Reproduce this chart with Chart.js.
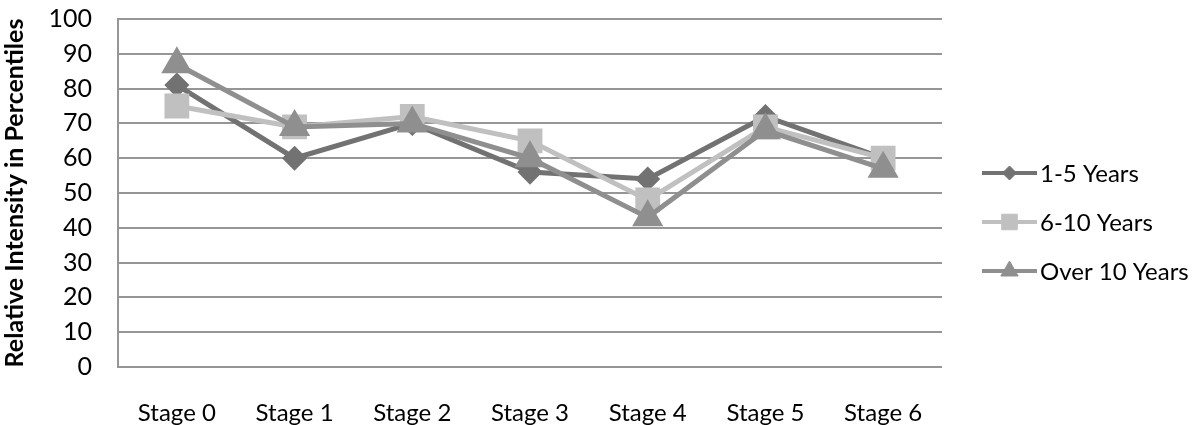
<!DOCTYPE html>
<html>
<head>
<meta charset="utf-8">
<script src="https://cdn.jsdelivr.net/npm/chart.js@4/dist/chart.umd.min.js"></script>
<style>
  html, body { margin: 0; padding: 0; background: #fff; }
  #wrap { width: 1194px; height: 425px; position: relative; }
</style>
</head>
<body>
<div id="wrap"><canvas id="c" width="1194" height="425"></canvas></div>
<script>
const stages = ['Stage 0', 'Stage 1', 'Stage 2', 'Stage 3', 'Stage 4', 'Stage 5', 'Stage 6'];
const years1to5 = [81, 60, 70, 56, 54, 72, 60];
const years6to10 = [75, 69, 72, 65, 48, 69, 60];
const over10 = [87, 69, 70, 60, 43, 68, 57];
const yTicks = [0, 10, 20, 30, 40, 50, 60, 70, 80, 90, 100];

const FONT = 'Lato, "Open Sans", sans-serif';

// Later series are painted over earlier ones (lower order = on top)
function series(label, data, color, style, radius, legendRadius, order) {
  return {
    label, data, legendRadius, order,
    borderColor: color, backgroundColor: color,
    pointBackgroundColor: color, pointBorderColor: color,
    borderWidth: 5, pointStyle: style, pointRadius: radius, pointHoverRadius: radius,
    tension: 0
  };
}

// Legend drawn as line + marker swatches to the right of the plot
const sideLegend = {
  id: 'sideLegend',
  afterDraw(chart) {
    const ctx = chart.ctx;
    const x0 = 982, x1 = 1037, rowY = [173, 222, 271];
    chart.data.datasets.forEach((ds, i) => {
      const y = rowY[i];
      ctx.save();
      ctx.strokeStyle = ds.borderColor;
      ctx.fillStyle = ds.borderColor;
      ctx.lineWidth = 4;
      ctx.beginPath(); ctx.moveTo(x0, y); ctx.lineTo(x1, y); ctx.stroke();
      ctx.lineWidth = 1;
      Chart.helpers.drawPoint(ctx, {
        pointStyle: ds.pointStyle, radius: ds.legendRadius, borderWidth: 1
      }, (x0 + x1) / 2, y);
      ctx.fillStyle = '#000';
      ctx.font = '24px ' + FONT;
      ctx.textBaseline = 'middle';
      ctx.fillText(ds.label, x1 + 3, y + 1);
      ctx.restore();
    });
  }
};

new Chart(document.getElementById('c'), {
  type: 'line',
  data: {
    labels: stages,
    datasets: [
      series('1-5 Years', years1to5, '#727272', 'rectRot', 9, 7, 3),
      series('6-10 Years', years6to10, '#c0c0c0', 'rect', 14, 11, 2),
      series('Over 10 Years', over10, '#8f8f8f', 'triangle', 13, 10, 1)
    ]
  },
  options: {
    responsive: false,
    animation: false,
    devicePixelRatio: 1,
    layout: { padding: { top: 15, right: 252, left: 0, bottom: 0 } },
    plugins: { legend: { display: false }, tooltip: { enabled: false } },
    scales: {
      x: {
        offset: true,
        grid: { display: false, drawTicks: false },
        border: { display: false },
        ticks: { color: '#000', font: { family: FONT, size: 24 }, padding: 32, maxRotation: 0, autoSkip: false },
        afterFit(s) { s.height = 58; s.paddingLeft = 0; s.paddingRight = 0; }
      },
      y: {
        min: 0, max: 100,
        afterBuildTicks(s) { s.ticks = yTicks.map(v => ({ value: v })); },
        grid: { color: '#969696', lineWidth: 2, drawTicks: false },
        border: { display: true, color: '#969696', width: 2 },
        ticks: { color: '#000', font: { family: FONT, size: 25 }, padding: 26, autoSkip: false },
        title: { display: true, text: 'Relative Intensity in Percentiles', color: '#000',
                 font: { family: FONT, size: 25, weight: 'bold' }, padding: 0 },
        afterFit(s) { s.width = 118; s.paddingTop = 0; s.paddingBottom = 0; }
      }
    }
  },
  plugins: [sideLegend]
});
</script>
</body>
</html>
